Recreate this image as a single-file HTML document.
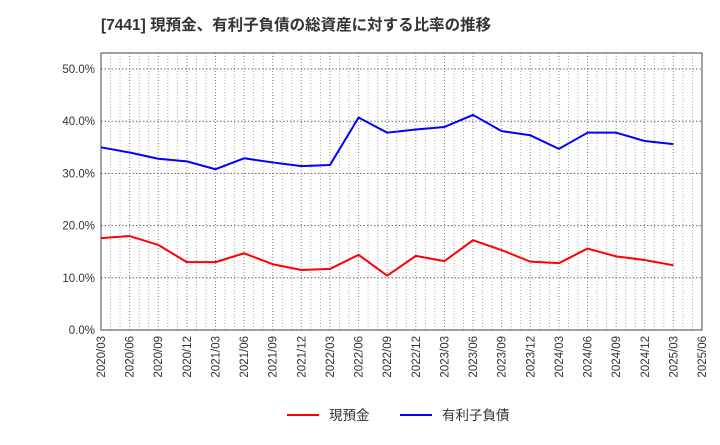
<!DOCTYPE html>
<html><head><meta charset="utf-8"><style>
body{margin:0;background:#fff;width:720px;height:440px;overflow:hidden}
text{font-family:"Liberation Sans","Noto Sans CJK JP",sans-serif}
</style></head><body>
<svg id="c" width="720" height="440">
<text x="101" y="30" font-size="15.5" font-weight="bold" fill="#333">[7441]  現預金、有利子負債の総資産に対する比率の推移</text>
<g id="grid"></g><g id="axes"></g><g id="series"></g>
<g>
<line x1="287" y1="415" x2="319" y2="415" stroke="#f00" stroke-width="2"/>
<text x="329" y="420" font-size="13.5" fill="#333">現預金</text>
<line x1="400" y1="415" x2="432" y2="415" stroke="#00f" stroke-width="2"/>
<text x="442" y="420" font-size="13.5" fill="#333">有利子負債</text>
</g>
</svg>
<script>
const categories=["2020/03","2020/06","2020/09","2020/12","2021/03","2021/06","2021/09","2021/12","2022/03","2022/06","2022/09","2022/12","2023/03","2023/06","2023/09","2023/12","2024/03","2024/06","2024/09","2024/12","2025/03","2025/06"];
const cashValues=[17.6,18.0,16.3,13.0,13.0,14.7,12.6,11.5,11.7,14.4,10.4,14.2,13.2,17.2,15.3,13.1,12.8,15.6,14.1,13.4,12.4];
const debtValues=[35.0,34.0,32.8,32.3,30.8,32.9,32.1,31.4,31.6,40.7,37.8,38.4,38.9,41.2,38.1,37.3,34.7,37.8,37.8,36.2,35.6];
const yTicks=[0,10,20,30,40,50];
const L=101,R=702,T=53,B=330;
const xs=i=>L+i*(R-L)/(categories.length-1);
const ys=v=>B-v*(B-69)/50;
const NS="http://www.w3.org/2000/svg";
function mk(tag,attrs,parent,txt){const e=document.createElementNS(NS,tag);for(const k in attrs)e.setAttribute(k,attrs[k]);if(txt!=null)e.textContent=txt;document.getElementById(parent).appendChild(e);return e;}
for(let m=1;m<(categories.length-1)*3;m++){
 if(m%3===0)continue;
 const x=xs(m/3);
 const g=mk("line",{x1:x,x2:x,y1:T,y2:B,stroke:"#aaa","stroke-dasharray":"1,2","stroke-width":1},"grid");
 
 
}
categories.forEach((c,i)=>{
 const g=mk("line",{x1:xs(i),x2:xs(i),y1:T,y2:B,stroke:"#888","stroke-dasharray":"1,2","stroke-width":1},"grid");
 
 
 const x=xs(i),y=B+6;
 const t=mk("text",{x:x+4,y:y,"font-size":11.5,fill:"#333","text-anchor":"end",transform:`rotate(-90 ${x+4} ${y})`},"axes",c);
 
 
});
yTicks.forEach(v=>{
 const g=mk("line",{x1:L,x2:R,y1:ys(v),y2:ys(v),stroke:"#666","stroke-dasharray":"1.5,2","stroke-width":1},"grid");
 
 
 const t=mk("text",{x:L-6,y:ys(v)+4,"font-size":11.5,fill:"#333","text-anchor":"end"},"axes",v.toFixed(1)+"%");
 
 
});
const fr=mk("rect",{x:L,y:T,width:R-L,height:B-T,fill:"none",stroke:"#444","stroke-width":1},"axes");


function line(vals,col,name){
 const p=mk("polyline",{points:vals.map((v,i)=>xs(i)+","+ys(v)).join(" "),fill:"none",stroke:col,"stroke-width":2,"stroke-linejoin":"round"},"series");
 
 
}
line(debtValues,"#00f","debt-line");
line(cashValues,"#f00","cash-line");
</script>
</body></html>
